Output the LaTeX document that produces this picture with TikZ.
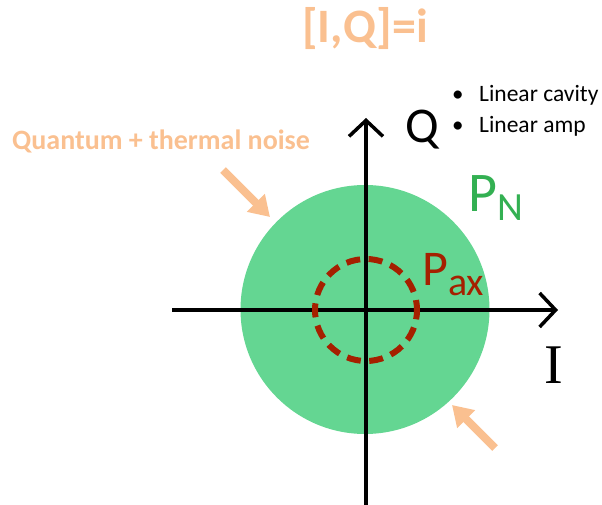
\documentclass[tikz,border=0pt]{standalone}
\usepackage{fontspec}
\setmainfont{Carlito}
\newfontfamily\serifI{Liberation Serif}
\usetikzlibrary{arrows.meta}
\definecolor{lorange}{HTML}{FAC090}
\definecolor{cgreen}{HTML}{64D692}
\definecolor{tgreen}{HTML}{33B052}
\definecolor{dred}{HTML}{A52000}
\tikzset{
  axis/.style={line width=3.5pt, -{Straight Barb[length=16pt,width=34pt,line width=3.5pt]}},
  noisearrow/.style={draw=lorange, line width=8pt, -{Triangle[length=20pt,width=24pt]}},
  lbl/.style={inner sep=0pt, anchor=base west},
}
\begin{document}
\begin{tikzpicture}[x=1pt,y=1pt]
\useasboundingbox (0,0) rectangle (602,504);
% green noise disc
\fill[cgreen] (365,194.5) circle (124.5);
% axes
\coordinate (xl) at (172,194);
\coordinate (xr) at (558,194);
\coordinate (yb) at (366,-6);
\coordinate (yt) at (366,386);
\draw[axis] (xl) -- (xr);
\draw[axis] (yb) -- (yt);
% dashed axion circle
\draw[dred, line width=6pt, dash pattern=on 14pt off 8.5pt, dash phase=4pt] (366,194) circle (51);
% labels
\node[lbl, text=tgreen] (pn) at (468,292) {\fontsize{56}{56}\selectfont P\raisebox{-9pt}{\fontsize{40}{40}\selectfont N}};
\node[lbl, text=dred] (pax) at (422,219) {\fontsize{50}{50}\selectfont P\raisebox{-10pt}{\fontsize{40}{40}\selectfont ax}};
\node[lbl] (q) at (405,361) {\fontsize{50}{50}\selectfont Q};
\node[lbl] (i) at (544,121) {\serifI\fontsize{56}{56}\selectfont I};
\node[lbl] (b1) at (452,402) {\fontsize{23}{23}\selectfont •};
\node[lbl] (t1) at (479,402) {\fontsize{23.5}{23.5}\selectfont Linear cavity};
\node[lbl] (b2) at (452,371) {\fontsize{23}{23}\selectfont •};
\node[lbl] (t2) at (479,371) {\fontsize{23.5}{23.5}\selectfont Linear amp};
\node[lbl, text=lorange] (qn) at (12,354) {\fontsize{28}{28}\selectfont\bfseries Quantum + thermal noise};
\node[lbl, text=lorange] (comm) at (302,461) {\fontsize{48}{48}\selectfont\bfseries [I,Q]=i};
% noise arrows
\coordinate (a1s) at (223,334);
\coordinate (a1e) at (270,287);
\coordinate (a2s) at (495,56);
\coordinate (a2e) at (452,99);
\draw[noisearrow] (a1s) -- (a1e);
\draw[noisearrow] (a2s) -- (a2e);
\end{tikzpicture}
\end{document}
